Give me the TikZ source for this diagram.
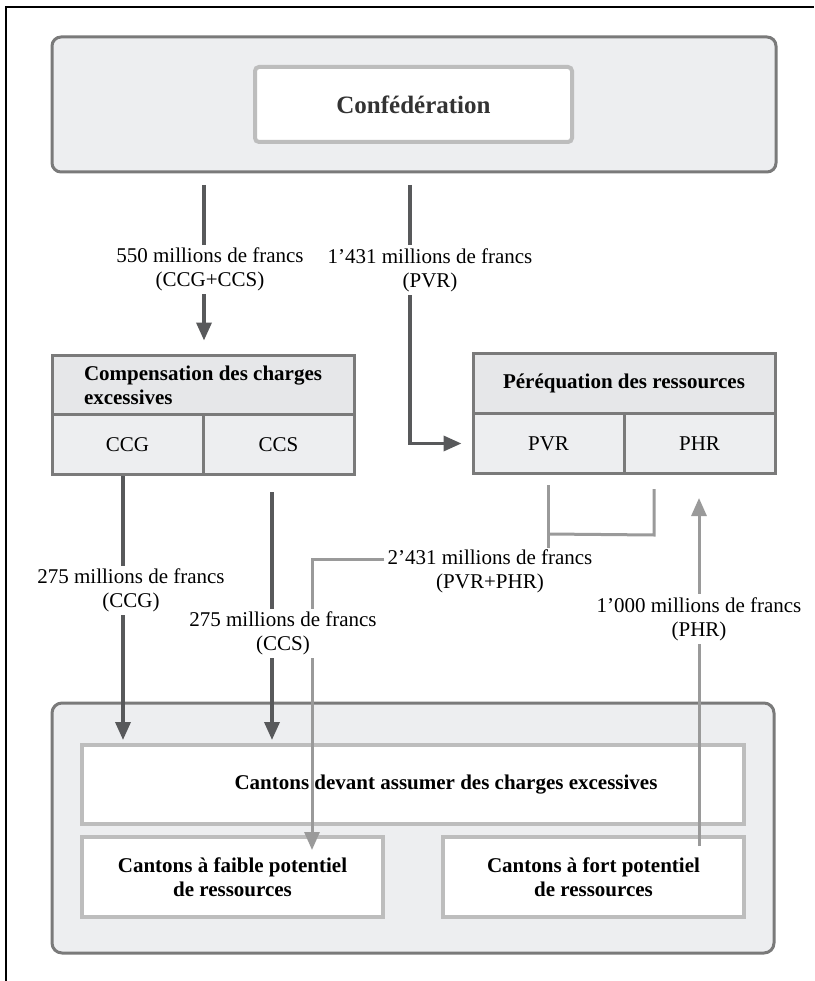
\documentclass[tikz,border=0pt]{standalone}
\usepackage{fontspec}
\setmainfont{Liberation Serif}
\usetikzlibrary{arrows.meta}
\definecolor{boxgray}{HTML}{7A7A7A}
\definecolor{boxfill}{HTML}{EDEEF0}
\definecolor{headfill}{HTML}{E6E7E9}
\definecolor{palegray}{HTML}{BDBDBD}
\definecolor{darkline}{HTML}{58595B}
\definecolor{greyline}{HTML}{9A9A9A}
\newcommand\lblfont{\fontsize{21}{24}\selectfont}
\newcommand\bigfont{\fontsize{25}{29}\selectfont\bfseries}
\begin{document}
\begin{tikzpicture}[x=1pt,y=-1pt,
  outerbox/.style={draw=boxgray, fill=boxfill, line width=3pt, rounded corners=9pt},
  whitebox/.style={draw=palegray, fill=white, line width=4pt, font=\lblfont\bfseries, align=center},
  headcell/.style={draw=boxgray, fill=headfill, line width=3pt, font=\lblfont\bfseries, minimum width=302pt, minimum height=60pt},
  cell/.style={draw=boxgray, fill=boxfill, line width=3pt, font=\lblfont, minimum width=151pt, minimum height=60pt},
  darkarr/.style={draw=darkline, line width=3.5pt, -{Triangle[width=15pt,length=18pt]}},
  greyarr/.style={draw=greyline, line width=3pt, -{Triangle[width=15pt,length=18pt]}},
  greyseg/.style={draw=greyline, line width=3pt},
  lbl/.style={font=\lblfont, align=center, fill=white, inner sep=3pt, text=black},
]
\useasboundingbox (0,0) rectangle (814,981);
\draw[line width=2.5pt, black] (6,981) -- (6,7) -- (814,7);

% Confederation
\node[outerbox, minimum width=724pt, minimum height=135pt] (confouter) at (414,104.5) {};
\node[whitebox, rounded corners=4pt, minimum width=317pt, minimum height=75pt, font=\bigfont, text=black!80] (conf) at (413.5,104.5) {Confédération};

% Compensation
\node[headcell, align=left] (comphead) at (203,385) {Compensation des charges\\excessives};
\node[cell] (ccg) at (127.5,444.5) {CCG};
\node[cell] (ccs) at (278.5,444.5) {CCS};

% Perequation
\node[headcell] (perhead) at (624,383) {Péréquation des ressources};
\node[cell] (pvr) at (548.5,443.5) {PVR};
\node[cell] (phr) at (699.5,443.5) {PHR};

% Cantons
\node[outerbox, rounded corners=10pt, minimum width=722pt, minimum height=250pt] (cantons) at (413,828) {};
\node[whitebox, minimum width=662pt, minimum height=79pt] (devant) at (413,784.5) {};
\node[font=\lblfont\bfseries] (devantlbl) at (446,784.5) {Cantons devant assumer des charges excessives};
\node[whitebox, minimum width=301pt, minimum height=80pt] (faible) at (232.5,877) {Cantons à faible potentiel\\de ressources};
\node[whitebox, minimum width=301pt, minimum height=80pt] (fort) at (593.5,877) {Cantons à fort potentiel\\de ressources};

% grey flows
\coordinate (bj) at (548.5,534);
\draw[greyseg] ([yshift=-10pt]pvr.south) -- ++(0,63);
\draw[greyseg] ([xshift=-45.5pt,yshift=-14pt]phr.south) -- ++(0,46) -- (bj);
\node[lbl, fill=none] (l2431) at (490,571.5) {2’431 millions de francs\\(PVR+PHR)};
\coordinate (lj) at (312,559);
\coordinate (ftip) at (312,850);
\draw[greyarr] (l2431.west |- lj) -- (lj) -- (ftip);

\coordinate (fortstart) at (699,846);
\draw[greyarr] (fortstart) -- node[lbl, pos=0.652]{1’000 millions de francs\\(PHR)} ([xshift=-0.5pt,yshift=-23pt]phr.south);

% dark flows
\coordinate (a1s) at (204,185);
\draw[darkarr, shorten >=13pt] (a1s) -- node[lbl, pos=0.5, xshift=6pt]{550 millions de francs\\(CCG+CCS)} (a1s |- comphead.north);

\coordinate (a2s) at (410,185);
\draw[darkarr, shorten >=10pt] (a2s) -- node[lbl, pos=0.329, xshift=20pt]{1’431 millions de francs\\(PVR)} (a2s |- pvr.west) -- (pvr.west);

\draw[darkarr, shorten >=3pt] ([xshift=-4.5pt]ccg.south) -- node[lbl, pos=0.428, xshift=8pt]{275 millions de francs\\(CCG)} ([xshift=-4.5pt]ccg.south |- devant.north);

\draw[darkarr, shorten >=3pt] ([xshift=-6.5pt,yshift=-16pt]ccs.south) -- node[lbl, pos=0.563, xshift=11pt]{275 millions de francs\\(CCS)} ([xshift=-6.5pt]ccs.south |- devant.north);
\end{tikzpicture}
\end{document}
